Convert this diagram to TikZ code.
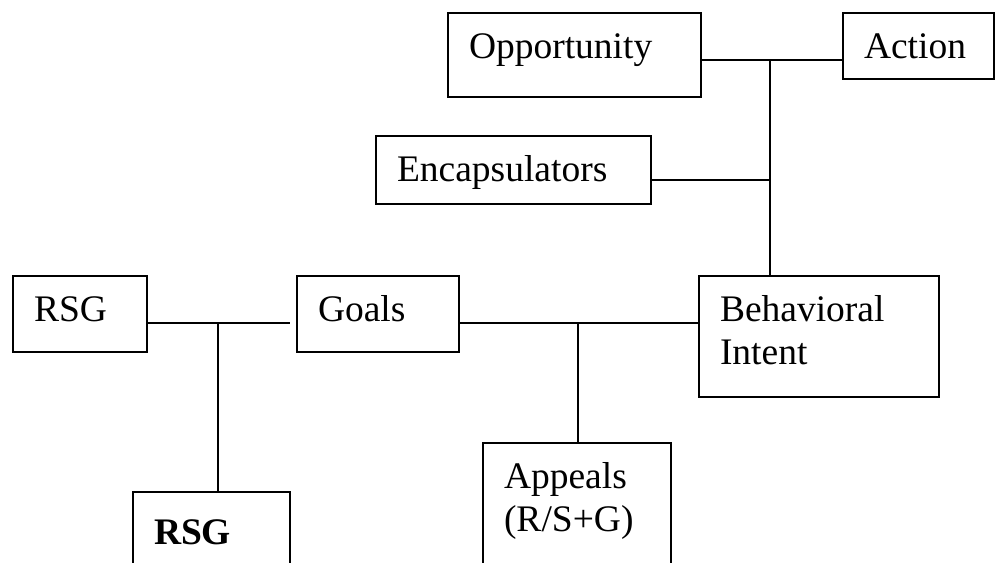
\documentclass[tikz,border=0pt]{standalone}
\usepackage{fontspec}
\setmainfont{Liberation Serif}
\usepackage{tikz}

\begin{document}
\begin{tikzpicture}[x=1pt,y=-1pt,
		box/.style={draw,line width=2pt,anchor=north west,inner xsep=21pt,inner ysep=0pt,
			text height=45pt,align=left,font=\fontsize{37.5}{43}\selectfont},
		link/.style={line width=2pt}]
			\useasboundingbox (0,0) rectangle (995,562);
			\clip (0,0) rectangle (995,562);
			% boxes
			\node[box,text width=211pt,text depth=39pt] (opp) at (447,12) {Opportunity};
			\node[box,text width=109pt,text depth=21pt] (act) at (842,12) {Action};
			\node[box,text width=233pt,text depth=23pt] (enc) at (375,135) {Encapsulators};
			\node[box,text width=198pt,text depth=76pt] (beh) at (698,275) {Behavioral\\Intent};
			\node[box,text width=92pt,text depth=31pt] (rsga) at (12,275) {RSG};
			\node[box,text width=120pt,text depth=31pt] (goals) at (296,275) {Goals};
			\node[box,text width=146pt,text depth=113pt] (app) at (482,442) {Appeals\\(R/S+G)};
			\node[box,text width=115pt,text height=52pt,text depth=58pt] (rsgb) at (132,491) {\bfseries RSG};
			% junctions
			\coordinate (top) at (770,60);
			\coordinate (mid) at (770,180);
			\coordinate (left) at (218,323);
			\coordinate (right) at (578,323);
			% connectors
			\draw[link] (opp.east |- top) -- (act.west |- top);
			\draw[link] (top) -- (top |- beh.north);
			\draw[link] (enc.east |- mid) -- (mid);
			\draw[link,shorten >=6pt] (rsga.east |- left) -- (goals.west |- left);
			\draw[link] (left) -- (left |- rsgb.north);
			\draw[link] (goals.east |- right) -- (beh.west |- right);
			\draw[link] (right) -- (right |- app.north);
		\end{tikzpicture}
\end{document}
